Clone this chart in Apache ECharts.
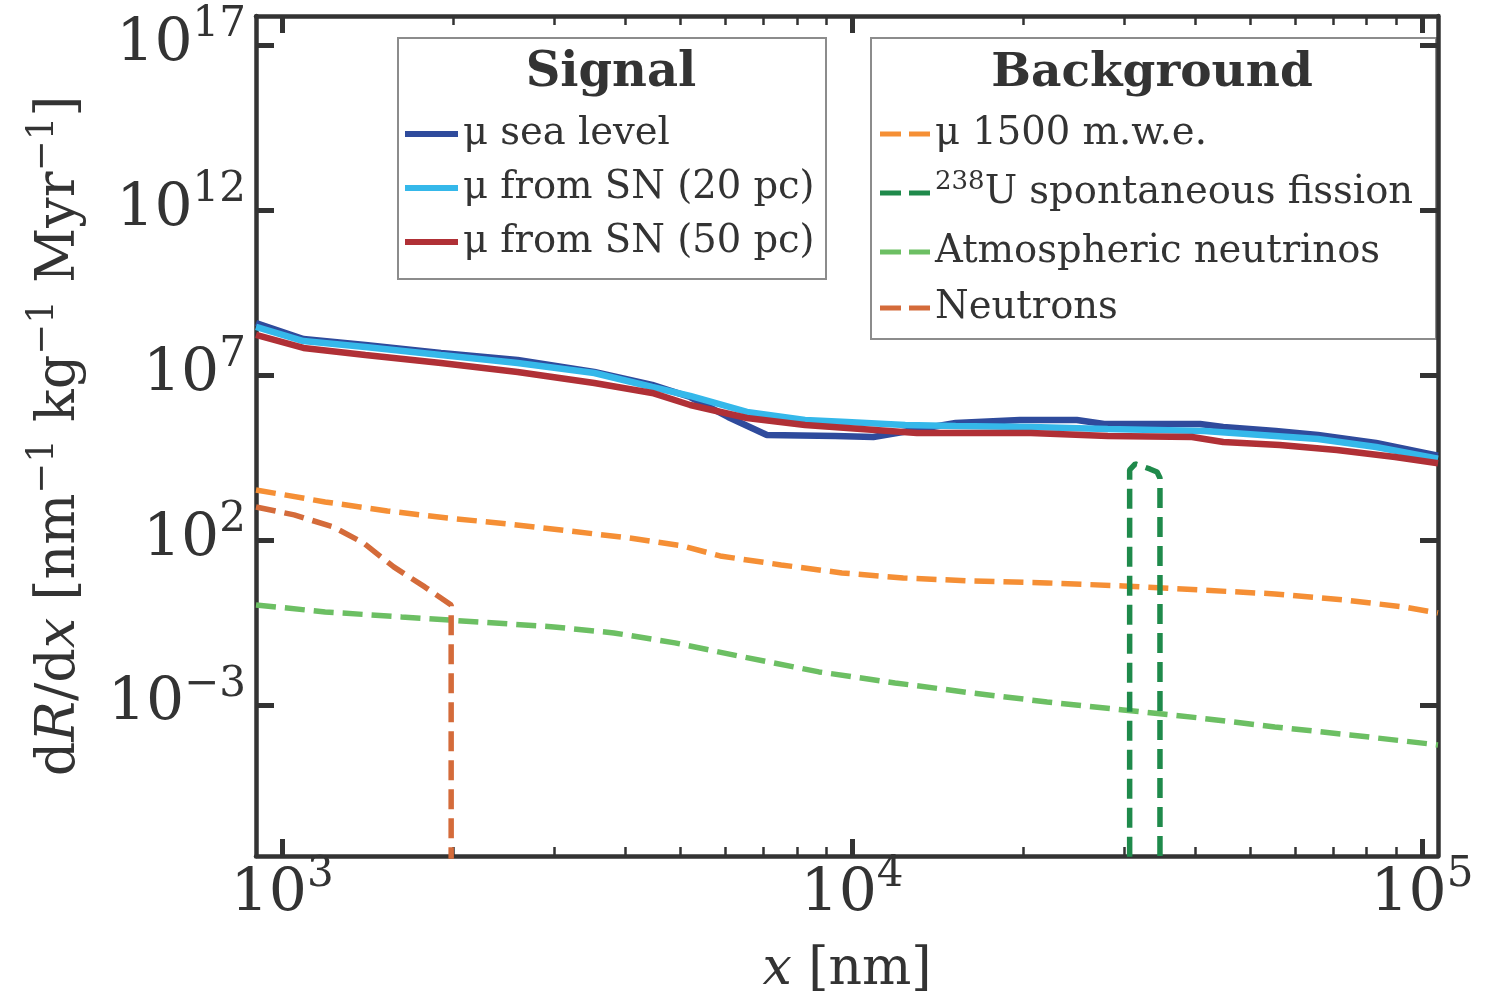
<!DOCTYPE html>
<html>
<head>
<meta charset="utf-8">
<script src="https://cdn.jsdelivr.net/npm/echarts@6/dist/echarts.min.js"></script>
<style>html,body{margin:0;padding:0;background:#fff}#c{width:1491px;height:996px}</style>
</head>
<body>
<div id="c"></div>
<script>
// ---- data (x in nm, y in nm^-1 kg^-1 Myr^-1) ----
const muSeaLevel = [[900,3.77e8],[1090,1.23e8],[1400,8.1e7],[1900,4.64e7],[2590,2.85e7],[3530,1.23e7],[4460,4.98e6],[5200,2.15e6],[6060,5.34e5],[7090,1.52e5],[9340,1.42e5],[10900,1.32e5],[15200,3.51e5],[19700,4.33e5],[24800,4.33e5],[27700,3.27e5],[40800,3.27e5],[44800,2.66e5],[55400,2.01e5],[65700,1.52e5],[83100,8.7e4],[106700,3.6e4]];
const muSN20 = [[900,2.85e8],[1090,1.07e8],[1400,7.05e7],[1900,4.04e7],[2590,2.31e7],[3530,1.15e7],[4460,4.33e6],[5200,2.31e6],[6540,7.57e5],[8270,4.33e5],[9800,3.77e5],[12400,3.05e5],[15200,2.85e5],[20600,2.66e5],[28100,2.31e5],[41500,2.01e5],[52200,1.52e5],[65700,1.15e5],[83100,6.58e4],[106700,2.9e4]];
const muSN50 = [[900,1.63e8],[1090,6.6e7],[1400,4.04e7],[1900,2.31e7],[2590,1.23e7],[3530,5.73e6],[4460,2.85e6],[5200,1.23e6],[6540,4.98e5],[8270,3.05e5],[9800,2.48e5],[13000,1.75e5],[20600,1.75e5],[28100,1.42e5],[39500,1.32e5],[44800,9.3e4],[56300,7.57e4],[70900,5.34e4],[89700,3.27e4],[106700,2.1e4]];
const mu1500 = [[900,3270],[1190,1420],[1530,757],[1950,464],[2490,305],[3190,187],[4060,115],[5050,65.8],[5870,32.7],[7510,17.5],[9600,10],[12300,7.05],[16200,5.73],[22000,4.98],[29900,4.04],[40600,3.05],[55200,2.31],[72700,1.52],[93000,0.933],[106700,0.614]];
const u238Fission = [[30700,1e-12],[30700,1.32e4],[31400,2.01e4],[33300,1.42e4],[34300,1.15e4],[34700,7.57e3],[34700,1e-12]];
const atmNeutrinos = [[900,1.07],[1190,0.658],[1620,0.464],[2210,0.327],[3000,0.231],[3820,0.152],[4890,0.0757],[6440,0.0285],[8750,0.01],[11900,4.64e-3],[16200,2.31e-3],[22000,1.23e-3],[29900,7.05e-4],[40600,4.04e-4],[55200,2.15e-4],[74800,1.23e-4],[106700,6.13e-5]];
const neutrons = [[900,1000],[1050,573],[1230,248],[1390,81],[1570,15.2],[1780,3.77],[1980,1.07],[1980,1e-12]];

const signalNames = ['μ sea level', 'μ from SN (20 pc)', 'μ from SN (50 pc)'];
const backgroundNames = ['μ 1500 m.w.e.', '238U spontaneous fission', 'Atmospheric neutrinos', 'Neutrons'];

const xMajorTicks = [1e3, 1e4, 1e5];
const xMinorTicks = [2e3,3e3,4e3,5e3,6e3,7e3,8e3,9e3,2e4,3e4,4e4,5e4,6e4,7e4,8e4,9e4];
const yMajorTicks = [1e-3, 1e2, 1e7, 1e12, 1e17];

const X_MIN = 900, X_MAX = 106700;
const Y_MIN = 2.63e-8, Y_MAX = 7.6e17;

// ---- styling ----
const FONT = '"DejaVu Serif", "Liberation Serif", serif';
const AX = '#333333';
const DASH = [20, 9];
const DASH_ICON = 'path://M0,0H21V5H0Z M29,0H50V5H29Z';

function expLabel(v) {
  const e = Math.round(Math.log10(v));
  return '{a|10}{b|' + (e < 0 ? '\u2212' + (-e) : e) + '}';
}
const tickRich = {
  a: {fontFamily: FONT, fontSize: 60, color: AX},
  b: {fontFamily: FONT, fontSize: 42, color: AX, padding: [0, 0, 40, 0]}
};

function xAxisDef(pos, major, showLabel, showLine) {
  return {
    type: 'log', logBase: 10, position: pos, min: X_MIN, max: X_MAX,
    gridIndex: 0,
    axisLine: {show: showLine, onZero: false, lineStyle: {color: AX, width: 4.5}},
    axisTick: {show: true, inside: true, length: major ? 17 : 9,
      customValues: major ? xMajorTicks : xMinorTicks,
      lineStyle: {color: AX, width: major ? 5 : 2.5}},
    axisLabel: showLabel ? {show: true, customValues: xMajorTicks, formatter: expLabel,
      rich: tickRich, margin: -2} : {show: false},
    splitLine: {show: false}, minorTick: {show: false}
  };
}
function yAxisDef(pos, showLabel) {
  return {
    type: 'log', logBase: 10, position: pos, min: Y_MIN, max: Y_MAX,
    gridIndex: 0,
    axisLine: {show: true, onZero: false, lineStyle: {color: AX, width: 4.5}},
    axisTick: {show: true, inside: true, length: 18, customValues: yMajorTicks,
      lineStyle: {color: AX, width: 5}},
    axisLabel: showLabel ? {show: true, customValues: yMajorTicks, formatter: expLabel,
      rich: tickRich, margin: 10} : {show: false},
    splitLine: {show: false}, minorTick: {show: false}
  };
}

const xAxes = [xAxisDef('bottom', true, true, true), xAxisDef('bottom', false, false, false),
               xAxisDef('top', true, false, true), xAxisDef('top', false, false, false)];
xAxes[0].name = '{i|x} [nm]';
xAxes[0].nameLocation = 'middle';
xAxes[0].nameGap = 88;
xAxes[0].nameTextStyle = {fontFamily: FONT, fontSize: 52, color: AX,
  rich: {i: {fontFamily: FONT, fontSize: 52, fontStyle: 'italic', color: AX}}};

const yAxes = [yAxisDef('left', true), yAxisDef('right', false)];
yAxes[0].name = 'd{i|R}/d{i|x} [nm{s|\u22121} kg{s|\u22121} Myr{s|\u22121}]';
yAxes[0].nameLocation = 'middle';
yAxes[0].nameGap = 162;
yAxes[0].nameTextStyle = {fontFamily: FONT, fontSize: 54, color: AX,
  rich: {i: {fontFamily: FONT, fontSize: 54, fontStyle: 'italic', color: AX},
         s: {fontFamily: FONT, fontSize: 37, color: AX, padding: [0, 0, 32, 0]}}};

function line(name, data, color, dashed, width) {
  return {name: name, type: 'line', data: data, xAxisIndex: 0, yAxisIndex: 0,
    symbol: 'none', showSymbol: false, clip: true, animation: false,
    itemStyle: {color: color},
    lineStyle: {color: color, width: width, type: dashed ? DASH : 'solid'}};
}

const legendText = {fontFamily: FONT, fontSize: 38.5, color: AX, lineHeight: 42,
  rich: {sup: {fontFamily: FONT, fontSize: 26, color: AX, lineHeight: 42, padding: [0, 0, 22, 0]}}};

const chart = echarts.init(document.getElementById('c'), null, {renderer: 'canvas'});
chart.setOption({
  animation: false,
  backgroundColor: '#fff',
  grid: {left: 256, top: 16, right: 53, bottom: 140, containLabel: false, outerBoundsMode: 'none'},
  xAxis: xAxes,
  yAxis: yAxes,
  legend: [
    {data: signalNames, orient: 'vertical', left: 405, top: 113, padding: 0,
     icon: 'rect', itemWidth: 53, itemHeight: 6, itemGap: 12, textStyle: legendText, selectedMode: false},
    {data: backgroundNames, orient: 'vertical', left: 880, top: 113, padding: 0,
     icon: DASH_ICON, itemWidth: 50, itemHeight: 5, itemGap: 14, textStyle: legendText, selectedMode: false,
     formatter: function (n) { return n.indexOf('238U') === 0 ? '{sup|238}' + n.slice(3) : n; }}
  ],
  graphic: [
    {type: 'rect', shape: {x: 398, y: 38, width: 428, height: 241},
     style: {fill: 'none', stroke: '#8c8c8c', lineWidth: 2}},
    {type: 'text', x: 611, y: 74, style: {text: 'Signal', font: 'bold 48px ' + FONT, fill: AX,
     textAlign: 'center', textVerticalAlign: 'middle'}},
    {type: 'rect', shape: {x: 871, y: 38, width: 565, height: 301},
     style: {fill: 'none', stroke: '#8c8c8c', lineWidth: 2}},
    {type: 'text', x: 1152, y: 74, style: {text: 'Background', font: 'bold 47px ' + FONT, fill: AX,
     textAlign: 'center', textVerticalAlign: 'middle'}}
  ],
  series: [
    line(signalNames[0], muSeaLevel, '#2f4b9c', false, 6.5),
    line(signalNames[1], muSN20, '#35b8ea', false, 6.5),
    line(signalNames[2], muSN50, '#b03036', false, 6.5),
    line(backgroundNames[0], mu1500, '#f58f35', true, 5.5),
    line(backgroundNames[2], atmNeutrinos, '#6cbf63', true, 5.5),
    line(backgroundNames[3], neutrons, '#d46b3a', true, 5.5),
    line(backgroundNames[1], u238Fission, '#1f8a4b', true, 5.5)
  ]
});
</script>
</body>
</html>
